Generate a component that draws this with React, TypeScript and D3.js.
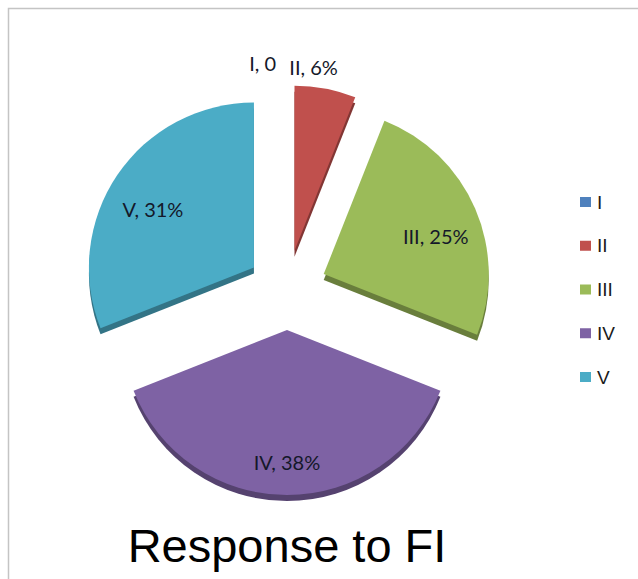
import * as d3 from "d3";

const categories = ["I", "II", "III", "IV", "V"];
const values = [0, 6, 25, 38, 31];
const sliceLabels = ["I, 0", "II, 6%", "III, 25%", "IV, 38%", "V, 31%"];
const colors = ["#4F81BD", "#C0504D", "#9BBB59", "#7E62A4", "#4BACC6"];
const title = "Response to FI";

const width = 638;
const height = 579;
const cx = 287;
const cy = 290;
const radius = 165;
const explode = 40;
const depth = 6;

export default function App() {
  const pie = d3
    .pie<number>()
    .sort(null)
    .value((d) => d);
  const arcs = pie(values);

  const arc = d3.arc<d3.PieArcDatum<number>>().innerRadius(0).outerRadius(radius);
  const labelArc = d3
    .arc<d3.PieArcDatum<number>>()
    .innerRadius(radius * 0.74)
    .outerRadius(radius * 0.74);

  // offset of each slice away from centre
  const shift = (a: d3.PieArcDatum<number>) => {
    const mid = (a.startAngle + a.endAngle) / 2;
    return [Math.sin(mid) * explode, -Math.cos(mid) * explode];
  };

  const legendY = d3.scalePoint<string>().domain(categories).range([202, 377]);

  return (
    <svg
      width={width}
      height={height}
      style={{ position: "absolute", left: 0, top: 0, background: "#fff" }}
    >
      <rect x={8.5} y={8.5} width={700} height={700} fill="#fff" stroke="#c4c4c4" strokeWidth={1.5} />

      {/* side faces */}
      {arcs.map((a, i) => {
        if (a.value === 0) return null;
        const [dx, dy] = shift(a);
        return (
          <path
            key={"s" + i}
            d={arc(a) ?? ""}
            transform={`translate(${cx + dx},${cy + dy + depth})`}
            fill={d3.color(colors[i])!.darker(1.1).formatHex()}
          />
        );
      })}

      {/* top faces */}
      {arcs.map((a, i) => {
        if (a.value === 0) return null;
        const [dx, dy] = shift(a);
        return (
          <path
            key={"t" + i}
            d={arc(a) ?? ""}
            transform={`translate(${cx + dx},${cy + dy})`}
            fill={colors[i]}
          />
        );
      })}

      {/* data labels */}
      {arcs.map((a, i) => {
        const [dx, dy] = shift(a);
        const outside = a.value < 10;
        let x: number;
        let y: number;
        let anchor = "middle";
        if (outside) {
          const mid = (a.startAngle + a.endAngle) / 2;
          x = cx + dx + Math.sin(mid) * (radius + 22);
          y = cy + dy - Math.cos(mid) * (radius + 22);
          if (i === 0) {
            anchor = "end";
            x -= 11;
          } else {
            x -= 16;
          }
        } else {
          const [lx, ly] = labelArc.centroid(a);
          x = cx + dx + lx;
          y = cy + dy + ly + 10;
        }
        return (
          <text
            key={"l" + i}
            x={x}
            y={y}
            textAnchor={anchor}
            dominantBaseline="central"
            fontFamily="Lato, 'Open Sans', sans-serif"
            fontSize={20}
            fill="#14182a"
          >
            {sliceLabels[i]}
          </text>
        );
      })}

      {/* legend */}
      {categories.map((c, i) => (
        <g key={"g" + i} transform={`translate(580,${legendY(c)})`}>
          <rect x={0} y={-5} width={11} height={10} fill={colors[i]} />
          <text
            x={17}
            y={0}
            dominantBaseline="central"
            fontFamily="'Liberation Sans', Arial, sans-serif"
            fontSize={19}
            fill="#1a1a1a"
          >
            {c}
          </text>
        </g>
      ))}

      <text
        x={cx}
        y={562}
        textAnchor="middle"
        fontFamily="'Liberation Sans', Arial, sans-serif"
        fontSize={47}
        fill="#000"
      >
        {title}
      </text>
    </svg>
  );
}
